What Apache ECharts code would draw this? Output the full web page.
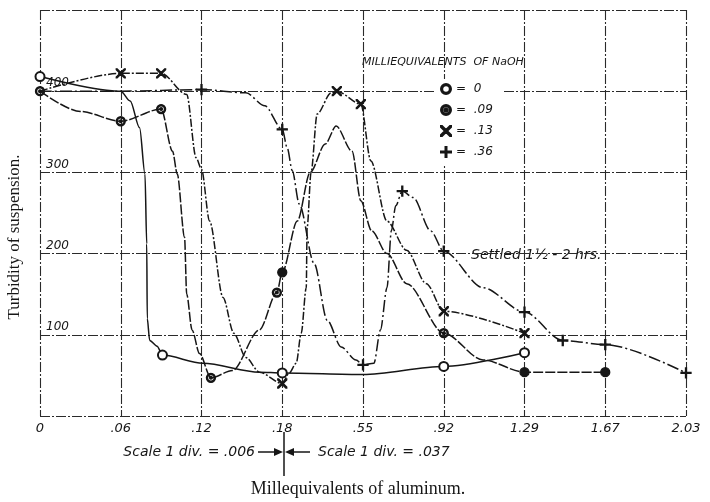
<!DOCTYPE html>
<html>
<head>
<meta charset="utf-8">
<title>Turbidity of suspension</title>
<script src="https://cdn.jsdelivr.net/npm/echarts@6/dist/echarts.min.js"></script>
<style>
    html, body { margin: 0; padding: 0; background: #fff; }
    #main { width: 710px; height: 502px; }
</style>
</head>
<body>
<div id="main"></div>
<script>
// x scale is broken: .006 per small div up to .18, then .037 per small div
var xTickValues = [0, .06, .12, .18, .55, .92, 1.29, 1.67, 2.03];
var xTickLabels = ['0', '.06', '.12', '.18', '.55', '.92', '1.29', '1.67', '2.03'];
var yTickLabels = ['', '100', '200', '300', '400', ''];
var naohLevels = ['0', '.09', '.13', '.36'];

// mark: 1 = plotted point, 2 = plotted point (filled), 0 = point on the drawn curve only
// NaOH = 0
var al0   = [0, .06, .067, .074, .078, .0793, .0797, .0815, .087, .091, .121, .163, .18, .55, .92, 1.29];
var turb0 = [418, 400, 388, 355, 298, 212, 120, 93, 86, 75, 65, 54, 53, 51, 61, 78];
var mark0 = [1, 0, 0, 0, 0, 0, 0, 0, 0, 1, 0, 0, 1, 0, 1, 1];

// NaOH = .09
var al1   = [0, .03, .06, .09, .0985, .102, .1074, .109, .113, .1185, .127, .143, .163, .176, .18, .249, .308, .377, .427, .50, .54, .59, .66, .75, .92, 1.10, 1.29, 1.67];
var turb1 = [400, 375, 363, 378, 326, 298, 220, 150, 106, 77, 47, 56, 106, 152, 177, 240, 300, 335, 357, 326, 265, 228, 200, 163, 102, 69, 54, 54];
var mark1 = [1, 0, 1, 1, 0, 0, 0, 0, 0, 0, 1, 0, 0, 1, 2, 0, 0, 0, 0, 0, 0, 0, 0, 0, 1, 0, 2, 2];

// NaOH = .13
var al2   = [0, .06, .09, .109, .116, .12, .126, .136, .144, .153, .163, .18, .212, .244, .267, .29, .294, .312, .34, .404, .43, .54, .586, .66, .75, .84, .92, 1.29];
var turb2 = [400, 422, 422, 396, 318, 304, 240, 146, 102, 72, 54, 40, 53, 65, 102, 158, 232, 300, 372, 398, 400, 384, 314, 240, 204, 163, 129, 102];
var mark2 = [0, 1, 1, 0, 0, 0, 0, 0, 0, 0, 0, 1, 0, 0, 0, 0, 0, 0, 0, 0, 1, 1, 0, 0, 0, 0, 1, 1];

// NaOH = .36
var al3   = [0, .06, .12, .153, .167, .18, .203, .226, .258, .326, .386, .45, .518, .55, .60, .63, .66, .68, .70, .73, .78, .86, .92, 1.10, 1.29, 1.47, 1.67, 2.03];
var turb3 = [400, 400, 402, 398, 382, 353, 330, 302, 261, 188, 118, 85, 69, 63, 65, 106, 158, 228, 259, 277, 269, 228, 203, 158, 128, 93, 88, 53];
var mark3 = [0, 0, 1, 0, 0, 1, 0, 0, 0, 0, 0, 0, 0, 1, 0, 0, 0, 0, 0, 1, 0, 0, 1, 0, 1, 1, 1, 1];

var ring = 'path://M10,0 A10,10 0 1,1 10,20 A10,10 0 1,1 10,0 Z M10,2.4 A7.6,7.6 0 1,0 10,17.6 A7.6,7.6 0 1,0 10,2.4 Z';
var ringDot = 'path://M10,0 A10,10 0 1,1 10,20 A10,10 0 1,1 10,0 Z M10,2.6 A7.4,7.4 0 1,0 10,17.4 A7.4,7.4 0 1,0 10,2.6 Z M10,7 A3,3 0 1,1 10,13 A3,3 0 1,1 10,7 Z';
var crossX = 'path://M0,0 L2,0 L10,8 L18,0 L20,0 L20,2 L12,10 L20,18 L20,20 L18,20 L10,12 L2,20 L0,20 L0,18 L8,10 L0,2 Z';
var plus = 'path://M9,0 L11,0 L11,9 L20,9 L20,11 L11,11 L11,20 L9,20 L9,11 L0,11 L0,9 L9,9 Z';
var ink = '#161616';

// aluminum value -> position in divisions of the broken scale
function toDiv(v) {
    for (var i = 0; i < xTickValues.length - 1; i++) {
        if (v <= xTickValues[i + 1]) {
            return i + (v - xTickValues[i]) / (xTickValues[i + 1] - xTickValues[i]);
        }
    }
    return xTickValues.length - 1;
}

function buildData(xs, ys, marks) {
    var out = [];
    for (var i = 0; i < xs.length; i++) {
        var item = { value: [toDiv(xs[i]), ys[i]] };
        if (marks[i] == 0) item.symbol = 'none';
        if (marks[i] == 2) item.symbol = 'circle';
        out.push(item);
    }
    return out;
}

function makeSeries(name, xs, ys, marks, symbol, size, dash) {
    return {
        name: name,
        type: 'line',
        data: buildData(xs, ys, marks),
        smooth: 0.3,
        smoothMonotone: 'x',
        symbol: symbol,
        symbolSize: size,
        symbolKeepAspect: true,
        showSymbol: true,
        showAllSymbol: true,
        lineStyle: { color: ink, width: 1.5, type: dash },
        itemStyle: { color: ink, borderColor: ink, borderWidth: 1.3 },
        emphasis: { disabled: true }
    };
}

var gridLine = { show: true, lineStyle: { color: '#2a2a2a', width: 1.1, type: [10, 2, 2, 2] } };

var myChart = echarts.init(document.getElementById('main'));

var option = {
    backgroundColor: '#fff',
    animation: false,
    grid: { left: 40, right: 24, top: 10, bottom: 86 },
    legend: {
        left: 434, top: 79,
        orient: 'vertical',
        itemWidth: 10, itemHeight: 10, itemGap: 9,
        backgroundColor: '#fff',
        padding: [4, 10, 6, 6],
        selectedMode: false,
        textStyle: { fontFamily: 'DejaVu Sans', fontStyle: 'italic', fontSize: 12, color: ink },
        formatter: function (name) { return '=  ' + name; },
        data: [
            { name: naohLevels[0], icon: ring },
            { name: naohLevels[1], icon: ringDot },
            { name: naohLevels[2], icon: crossX },
            { name: naohLevels[3], icon: plus }
        ]
    },
    xAxis: {
        type: 'value',
        min: 0, max: 8, interval: 1,
        axisLine: { show: false },
        axisTick: { show: false },
        splitLine: gridLine,
        axisLabel: {
            margin: 6,
            color: ink,
            fontFamily: 'DejaVu Sans',
            fontStyle: 'italic',
            fontSize: 13,
            formatter: function (v) { return xTickLabels[Math.round(v)]; }
        }
    },
    yAxis: {
        type: 'value',
        min: 0, max: 500, interval: 100,
        axisLine: { show: false },
        axisTick: { show: false },
        splitLine: gridLine,
        axisLabel: {
            inside: true,
            margin: 6,
            verticalAlign: 'bottom',
            padding: [0, 0, 2, 0],
            color: ink,
            fontFamily: 'DejaVu Sans',
            fontStyle: 'italic',
            fontSize: 12,
            formatter: function (v) { return yTickLabels[Math.round(v / 100)]; }
        }
    },
    graphic: [
        {
            type: 'text', x: 15, y: 237, rotation: Math.PI / 2,
            style: { text: 'Turbidity of suspension.', fill: ink, font: '17px "Liberation Serif"', align: 'center', verticalAlign: 'middle' }
        },
        {
            type: 'text', x: 358, y: 489,
            style: { text: 'Millequivalents of aluminum.', fill: ink, font: '18px "Liberation Serif"', align: 'center', verticalAlign: 'middle' }
        },
        {
            type: 'text', x: 358, y: 62,
            style: { text: 'MILLIEQUIVALENTS  OF NaOH', fill: ink, font: 'italic 11px "DejaVu Sans"', align: 'left', verticalAlign: 'middle', backgroundColor: '#fff', padding: [3, 4] }
        },
        {
            type: 'text', x: 468, y: 255,
            style: { text: 'Settled 1½ - 2 hrs.', fill: ink, font: 'italic 14px "DejaVu Sans"', align: 'left', verticalAlign: 'middle', backgroundColor: '#fff', padding: [2, 3] }
        },
        {
            type: 'text', x: 255, y: 452,
            style: { text: 'Scale 1 div. = .006', fill: ink, font: 'italic 14px "DejaVu Sans"', align: 'right', verticalAlign: 'middle' }
        },
        {
            type: 'text', x: 318, y: 452,
            style: { text: 'Scale 1 div. = .037', fill: ink, font: 'italic 14px "DejaVu Sans"', align: 'left', verticalAlign: 'middle' }
        },
        { type: 'line', shape: { x1: 284, y1: 432, x2: 284, y2: 476 }, style: { stroke: ink, lineWidth: 1.5 } },
        { type: 'line', shape: { x1: 258, y1: 452, x2: 280, y2: 452 }, style: { stroke: ink, lineWidth: 1.5 } },
        { type: 'polygon', shape: { points: [[283, 452], [274, 448], [274, 456]] }, style: { fill: ink } },
        { type: 'line', shape: { x1: 288, y1: 452, x2: 310, y2: 452 }, style: { stroke: ink, lineWidth: 1.5 } },
        { type: 'polygon', shape: { points: [[285, 452], [294, 448], [294, 456]] }, style: { fill: ink } }
    ],
    series: [
        makeSeries(naohLevels[0], al0, turb0, mark0, 'emptyCircle', 9, 'solid'),
        makeSeries(naohLevels[1], al1, turb1, mark1, ringDot, 9, [10, 2]),
        makeSeries(naohLevels[2], al2, turb2, mark2, crossX, 9, [8, 2, 2, 2]),
        makeSeries(naohLevels[3], al3, turb3, mark3, plus, 10, [12, 3, 2, 3])
    ]
};

myChart.setOption(option);
</script>
</body>
</html>
